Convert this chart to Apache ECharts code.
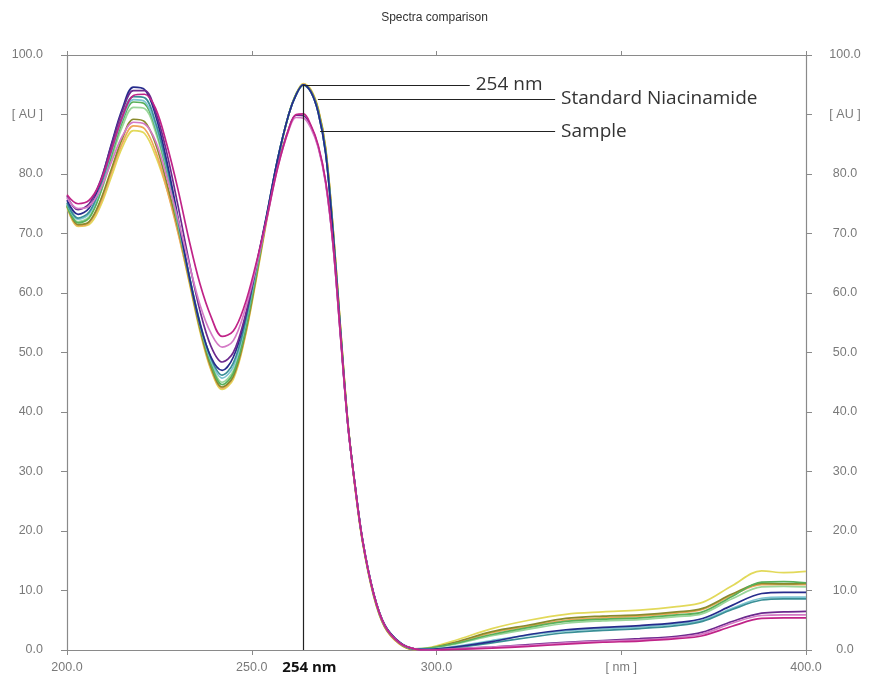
<!DOCTYPE html>
<html>
<head>
<meta charset="utf-8">
<script src="https://cdn.jsdelivr.net/npm/echarts@6/dist/echarts.min.js"></script>
<style>
html,body{margin:0;padding:0;background:#fff;}
#chart{width:869px;height:684px;}
</style>
</head>
<body>
<div id="chart"></div>
<script>
const wavelengths = [200,203,206,209,212,215,218,221,224,227,230,233,236,239,242,245,248,251,254,257,260,262,264,266,268,270,272,274,276,278,280,283,286,290,294,298,305,315,325,335,345,355,365,372,380,388,394,400];

const navy = [75.6,73.2,74.3,78.5,85.0,91.0,94.6,94.2,89.8,82.2,72.8,63.0,54.8,49.2,47.0,49.2,55.2,64.0,73.0,82.5,90.0,93.3,95.0,93.8,90.3,83.5,70.0,53.5,38.0,27.5,18.5,9.5,4.2,1.3,0.2,0.1,0.5,1.4,2.6,3.4,3.8,4.1,4.6,5.3,7.5,9.5,9.7,9.7];
const yellow = [74.5,71.2,71.5,74.5,79.5,84.5,87.3,86.8,83.0,77.5,70.5,62.0,53.5,47.0,43.8,45.5,52.0,61.5,72.0,82.0,90.0,93.5,95.2,94.2,91.0,84.5,71.0,54.5,38.5,27.0,18.0,9.0,3.8,1.0,0.1,0.4,1.6,3.6,5.0,6.0,6.4,6.7,7.3,8.0,10.8,13.3,13.0,13.2];
const olive = [74.8,71.5,72.0,75.5,80.8,86.0,89.2,88.8,85.0,78.5,71.0,62.5,54.0,47.5,44.2,46.0,52.5,62.0,72.5,82.3,90.0,93.4,95.0,94.0,90.8,84.2,70.8,54.2,38.3,27.2,18.2,9.2,3.9,1.1,0.1,0.3,1.3,3.1,4.2,5.3,5.7,5.9,6.4,7.0,9.4,11.2,11.1,11.2];
const orange = [74.6,71.3,71.8,75.0,80.2,85.2,88.1,87.6,83.8,77.5,70.2,62.2,53.8,47.2,44.0,45.8,52.2,61.8,72.2,82.2,90.0,93.4,95.1,94.1,90.9,84.3,70.9,54.3,38.4,27.1,18.1,9.1,3.8,1.0,0.1,0.3,1.2,2.9,4.0,5.0,5.4,5.7,6.2,6.8,9.2,11.0,11.0,11.0];
const green = [74.6,71.8,72.6,76.8,83.0,88.8,92.1,91.8,87.6,80.5,71.8,63.0,54.5,48.0,44.6,46.5,53.0,62.5,72.6,82.4,90.0,93.4,95.0,93.9,90.5,83.8,70.3,53.8,38.2,27.4,18.3,9.3,4.0,1.2,0.2,0.3,1.1,2.6,3.8,4.8,5.2,5.4,5.9,6.4,9.0,11.4,11.5,11.3];
const lightGreen = [74.8,72.0,72.8,76.6,82.5,88.0,91.2,91.0,87.0,80.2,71.6,62.9,54.6,48.3,45.0,46.9,53.3,62.8,72.7,82.4,90.0,93.3,94.9,93.8,90.4,83.7,70.2,53.7,38.1,27.4,18.3,9.3,4.0,1.2,0.2,0.3,1.0,2.4,3.5,4.5,4.9,5.1,5.6,6.1,8.6,10.6,10.7,10.6];
const teal = [75.2,72.6,73.6,77.8,84.0,89.8,93.0,92.8,88.6,81.4,72.4,63.2,55.0,49.0,46.2,48.2,54.4,63.6,72.9,82.5,90.0,93.3,95.0,93.8,90.3,83.5,70.0,53.5,38.0,27.5,18.5,9.5,4.2,1.3,0.2,0.1,0.4,1.2,2.1,2.9,3.3,3.6,4.1,4.8,6.8,8.4,8.6,8.6];
const cyan = [75.0,72.4,73.3,77.4,83.6,89.3,92.5,92.2,88.0,81.0,72.1,63.1,54.8,48.6,45.7,47.6,54.0,63.2,72.8,82.5,90.0,93.3,95.0,93.8,90.3,83.5,70.0,53.5,38.0,27.5,18.5,9.4,4.1,1.2,0.2,0.2,0.6,1.6,2.5,3.2,3.6,3.9,4.4,5.0,7.0,8.7,8.9,8.9];
const purple = [76.3,74.0,75.0,78.8,84.8,90.6,94.0,94.0,90.4,83.6,74.8,65.4,57.0,51.0,48.4,50.0,55.6,63.8,72.6,81.3,87.6,89.9,89.8,88.0,84.6,78.6,68.1,52.9,37.9,27.4,18.4,9.4,4.1,1.2,0.2,0.0,0.2,0.5,0.9,1.3,1.6,1.9,2.3,3.0,4.8,6.2,6.4,6.5];
const magenta = [76.5,75.0,75.6,78.6,84.0,89.6,93.2,93.4,91.0,85.0,77.5,69.0,61.5,56.0,52.7,53.6,57.8,64.5,72.4,81.0,87.5,90.0,90.1,88.2,84.8,78.8,68.3,53.0,38.0,27.4,18.4,9.4,4.1,1.2,0.2,0.0,0.1,0.3,0.6,1.0,1.3,1.5,1.9,2.4,4.0,5.3,5.4,5.4];
const pink = [76.0,74.2,74.6,77.4,82.0,86.4,88.7,88.4,85.5,79.5,72.5,65.0,58.0,53.2,50.9,52.0,56.8,63.9,72.2,81.0,87.3,89.5,89.4,87.7,84.4,78.4,68.0,52.8,37.8,27.3,18.4,9.4,4.1,1.2,0.2,0.0,0.2,0.5,0.8,1.2,1.5,1.7,2.1,2.7,4.5,5.8,5.9,5.9];

const xTicks = [200, 250, 300, 350, 400];
const xTickLabels = ['200.0', '250.0', '300.0', '[ nm ]', '400.0'];
const yTicks = [0,10,20,30,40,50,60,70,80,90,100];
const yTickLabels = ['0.0','10.0','20.0','30.0','40.0','50.0','60.0','70.0','80.0','[ AU ]','100.0'];

const seriesDefs = [
  {name:'Yellow', data:yellow, color:'#e2d95a'},
  {name:'Orange', data:orange, color:'#eea85a'},
  {name:'Olive', data:olive, color:'#8a8a2c'},
  {name:'Light green', data:lightGreen, color:'#9ad69a'},
  {name:'Green', data:green, color:'#58b05a'},
  {name:'Cyan', data:cyan, color:'#7cc4d2'},
  {name:'Teal', data:teal, color:'#3a8f96'},
  {name:'Navy', data:navy, color:'#262c8c'},
  {name:'Purple', data:purple, color:'#6d2a8e'},
  {name:'Pink', data:pink, color:'#d47ac6'},
  {name:'Magenta', data:magenta, color:'#c02488'}
];

const xLabelMap = {};
xTicks.forEach((t,i)=>xLabelMap[t]=xTickLabels[i]);
const yLabelMap = {};
yTicks.forEach((t,i)=>yLabelMap[t]=yTickLabels[i]);

const axisGray = '#8a8a8a';
const labelStyle = {color:'#7a7a7a', fontSize:12.5, fontFamily:'Liberation Sans, Arial, sans-serif'};

const series = seriesDefs.map(s => ({
  name: s.name,
  type: 'line',
  xAxisIndex: 0,
  yAxisIndex: 0,
  data: wavelengths.map((w,i)=>[w, s.data[i]]),
  symbol: 'none',
  smooth: 0.35,
  lineStyle: {color: s.color, width: 1.7},
  itemStyle: {color: s.color},
  z: 2
}));

series.push({
  name: 'annotations',
  type: 'line',
  xAxisIndex: 0,
  yAxisIndex: 0,
  data: [],
  symbol: 'none',
  z: 5,
  markLine: {
    silent: true,
    animation: false,
    symbol: ['none','none'],
    lineStyle: {color:'#222', width:1.2, type:'solid'},
    label: {show:true, position:'end', distance:6, color:'#333', fontSize:19, fontFamily:'Open Sans, sans-serif'},
    data: [
      [{coord:[264,0], label:{position:'start', formatter:'254 nm', fontWeight:'bold', fontSize:15, color:'#111', distance:10, offset:[6,0]}}, {coord:[264,95]}],
      [{coord:[264,95], label:{formatter:'254 nm'}}, {coord:[309,95]}],
      [{coord:[267.9,92.6], label:{formatter:'Standard Niacinamide'}}, {coord:[332.1,92.6]}],
      [{coord:[268.5,87.2], label:{formatter:'Sample'}}, {coord:[332.1,87.2]}]
    ]
  }
});

const chart = echarts.init(document.getElementById('chart'), null, {renderer:'canvas'});
chart.setOption({
  animation: false,
  backgroundColor: '#fff',
  title: {
    text: 'Spectra comparison',
    left: 'center',
    top: 7,
    textStyle: {fontSize: 12, fontWeight: 'normal', color: '#333', fontFamily: 'Liberation Sans, Arial, sans-serif'}
  },
  grid: {left: 67, right: 63, top: 55, bottom: 34},
  xAxis: [
    {
      type: 'value', position: 'bottom', min: 200, max: 400, interval: 50,
      axisLine: {show:true, onZero:false, lineStyle:{color:axisGray, width:1.2}},
      axisTick: {show:true, inside:false, length:5, lineStyle:{color:axisGray}},
      axisLabel: Object.assign({margin:11, formatter:v=>xLabelMap[v] ?? ''}, labelStyle),
      splitLine: {show:false}
    },
    {
      type: 'value', position: 'top', min: 200, max: 400, interval: 50,
      axisLine: {show:true, onZero:false, lineStyle:{color:axisGray, width:1.2}},
      axisTick: {show:true, inside:false, length:4, lineStyle:{color:axisGray}},
      axisLabel: {show:false},
      splitLine: {show:false}
    }
  ],
  yAxis: [
    {
      type: 'value', position: 'left', min: 0, max: 100, interval: 10,
      axisLine: {show:true, onZero:false, lineStyle:{color:axisGray, width:1.2}},
      axisTick: {show:true, inside:false, length:6, lineStyle:{color:axisGray}},
      axisLabel: Object.assign({margin:24, align:'right', formatter:v=>yLabelMap[v] ?? ''}, labelStyle),
      splitLine: {show:false}
    },
    {
      type: 'value', position: 'right', min: 0, max: 100, interval: 10,
      axisLine: {show:true, onZero:false, lineStyle:{color:axisGray, width:1.2}},
      axisTick: {show:true, inside:false, length:6, lineStyle:{color:axisGray}},
      axisLabel: Object.assign({margin:39, align:'center', formatter:v=>yLabelMap[v] ?? ''}, labelStyle),
      splitLine: {show:false}
    }
  ],
  series: series
});
</script>
</body>
</html>
